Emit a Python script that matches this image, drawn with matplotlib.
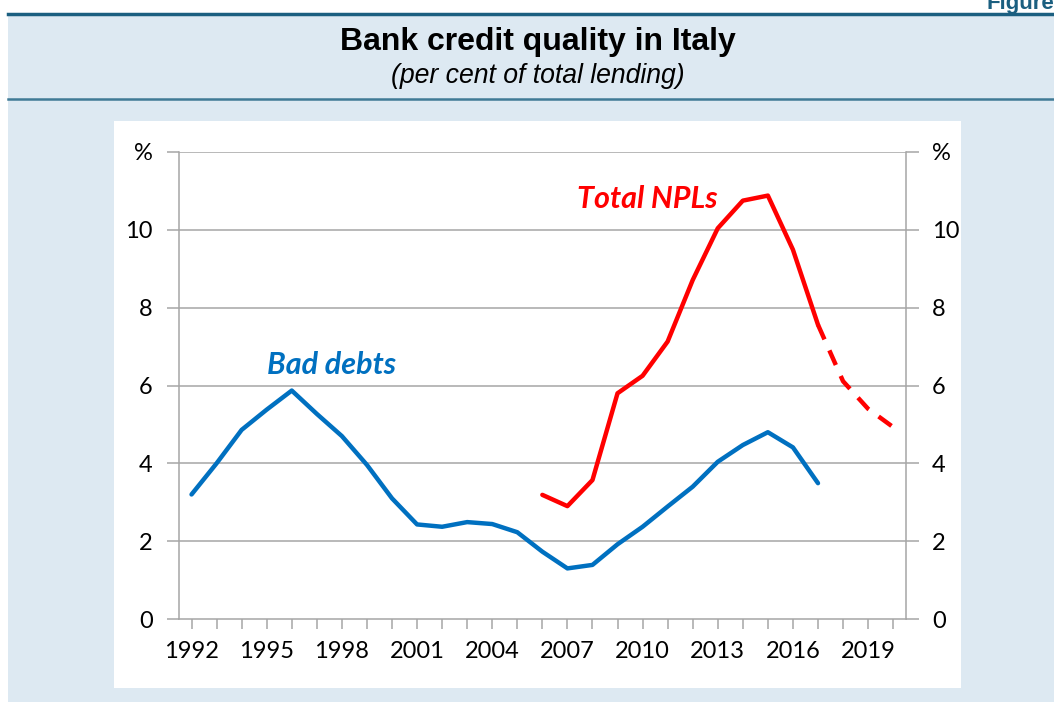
import matplotlib
matplotlib.use('Agg')
import matplotlib.pyplot as plt

# data
years = list(range(1992, 2018))
bad_debts = [3.2, 4.0, 4.86, 5.38, 5.87, 5.27, 4.7, 3.96, 3.1, 2.43, 2.37, 2.49, 2.44, 2.23,
             1.73, 1.30, 1.39, 1.92, 2.37, 2.89, 3.40, 4.04, 4.47, 4.80, 4.41, 3.49]

npl_years = list(range(2006, 2018))
npl = [3.19, 2.90, 3.57, 5.80, 6.25, 7.13, 8.71, 10.04, 10.75, 10.88, 9.49, 7.56]

proj_years = [2017, 2018, 2019, 2020]
npl_proj = [7.56, 6.11, 5.40, 4.93]

ytick_vals = [0, 2, 4, 6, 8, 10, 12]
ytick_labels = ['0', '2', '4', '6', '8', '10', '%']
xlabel_years = list(range(1992, 2021, 3))

W, H = 1054, 702
band = '#dde9f2'
teal = '#1b5f80'
grid = '#a6a6a6'
blue = '#0070c0'
red = '#ff0000'
font = 'Lato'

fig = plt.figure(figsize=(W / 100, H / 100), dpi=100)
fig.patch.set_facecolor('white')

# light blue band with the two dark rules
fig.patches.append(plt.Rectangle((8 / W, 0), 1 - 8 / W, (H - 14) / H, transform=fig.transFigure,
                                 facecolor=band, edgecolor='none', zorder=-2))
fig.add_artist(plt.Line2D([8 / W, 1], [1 - 14 / H] * 2, color=teal, lw=2.5))
fig.add_artist(plt.Line2D([8 / W, 1], [1 - 99 / H] * 2, color='#3f7a96', lw=1.8))
# white panel behind the chart
fig.patches.append(plt.Rectangle((114 / W, (H - 688) / H), (961 - 114) / W, (688 - 121) / H,
                                 transform=fig.transFigure, facecolor='white', edgecolor='none', zorder=-1))

fig.text(538 / W, 1 - 42 / H, 'Bank credit quality in Italy', ha='center', va='center',
         fontsize=23, fontweight='bold', family='Liberation Sans')
fig.text(538 / W, 1 - 76 / H, '(per cent of total lending)', ha='center', va='center',
         fontsize=19.2, style='italic', family='Liberation Sans')
fig.text(1054 / W, 1 - 3 / H, 'Figure', ha='right', va='center', fontsize=16,
         fontweight='bold', color=teal, family='Liberation Sans')

ax = fig.add_axes([179 / W, (H - 619) / H, (905.7 - 179) / W, (619 - 152) / H])
ax.set_facecolor('none')

ax.plot(years, bad_debts, color=blue, lw=3.2, solid_capstyle='round', zorder=3)
ax.plot(npl_years, npl, color=red, lw=3.2, solid_capstyle='round', zorder=3)
ax.plot(proj_years, npl_proj, color=red, lw=3.2, dashes=(3.6, 2.7), zorder=3)

ax.set_xlim(1991.5, 2020.5)
ax.set_ylim(0, 12)

for yv in ytick_vals[1:]:
    ax.axhline(yv, color=grid, lw=1.1, zorder=1)

ax.set_yticks(ytick_vals)
ax.set_yticklabels(ytick_labels)
ax.tick_params(axis='y', which='both', length=9, width=1.1, color=grid, labelsize=17,
               left=True, right=True, labelleft=True, labelright=True, pad=10)

ax.set_xticks(list(range(1992, 2021)))
ax.set_xticklabels([str(y) if y in xlabel_years else '' for y in range(1992, 2021)])
ax.tick_params(axis='x', length=7, width=1.1, color=grid, labelsize=17, pad=9)

for t in ax.xaxis.get_major_ticks() + ax.yaxis.get_major_ticks():
    t.label1.set_family(font)
    t.label2.set_family(font)

for s in ['left', 'right', 'bottom']:
    ax.spines[s].set_color(grid)
    ax.spines[s].set_linewidth(1.1)
ax.spines['top'].set_visible(False)

ax.text(1997.6, 6.53, 'Bad debts', color=blue, fontsize=22, fontweight='bold', style='italic',
        ha='center', va='center', family=font)
ax.text(2010.2, 10.8, 'Total NPLs', color=red, fontsize=22, fontweight='bold', style='italic',
        ha='center', va='center', family=font)

fig.savefig('out.png', dpi=100, facecolor=fig.get_facecolor())
